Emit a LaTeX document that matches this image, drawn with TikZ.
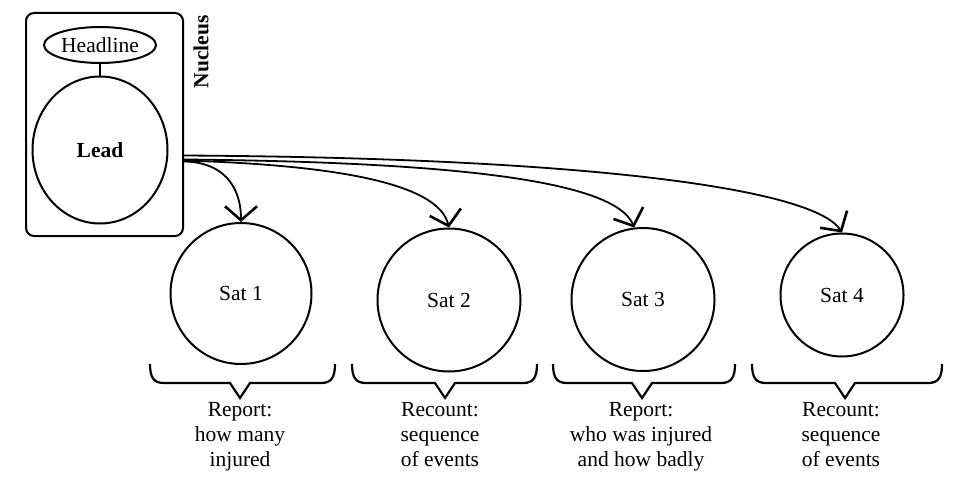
\documentclass[tikz,border=0pt]{standalone}
\usepackage{fontspec}
\setmainfont{Liberation Serif}
\usetikzlibrary{arrows.meta,shapes.geometric}

\begin{document}
\begin{tikzpicture}[x=1pt, y=-1pt, line width=2pt,
  txt/.style={font=\fontsize{21.5}{25}\selectfont},
  boldtxt/.style={font=\fontsize{21.5}{25}\selectfont\bfseries},
  sat/.style={circle, draw, inner sep=0pt, txt},
  oval/.style={ellipse, draw, inner sep=0pt},
  link/.style={line width=1.8pt, -{Straight Barb[length=14pt,width=32pt,line width=2.6pt]}},
  brace/.style={line width=2.2pt, line join=miter},
  note/.style={txt, align=center, anchor=north, inner sep=0pt}]

\useasboundingbox (0,0) rectangle (958,487);

% nucleus: headline over lead
\node[draw, rounded corners=8pt, minimum width=157pt, minimum height=223pt] (nucleus) at (104.5,124.5) {};
\node[oval, txt, minimum width=112pt, minimum height=36pt] (headline) at (100,45) {Headline};
\node[oval, boldtxt, minimum width=135pt, minimum height=147pt] (lead) at (100,150) {Lead};
\draw (headline) -- (lead);
\node[boldtxt, rotate=90] (nuclabel) at (201,52) {Nucleus};

% satellites
\node[sat, minimum size=141pt] (sat1) at (241,293.5) {Sat 1};
\node[sat, minimum size=143pt] (sat2) at (449,300) {Sat 2};
\node[sat, minimum size=143pt] (sat3) at (643,299.5) {Sat 3};
\node[sat, minimum size=123pt] (sat4) at (842,295) {Sat 4};

% links from the nucleus to each satellite
\draw[link] ([yshift=-31pt]nucleus.east) .. controls (600,158) and (815,190) .. (sat4.north);
\draw[link] ([yshift=-35pt]nucleus.east) .. controls (450,162) and (615,180) .. (sat3.97);
\draw[link] ([yshift=-36pt]nucleus.east) .. controls (330,165) and (438,182) .. (sat2.north);
\draw[link] ([yshift=-37pt]nucleus.east) .. controls (222,162) and (241,185) .. (sat1.north);

% braces under the satellites
\foreach \l/\c/\r in {150/240/335, 352/445/537, 553/642/735, 752/845/942} {
  \draw[brace] (\l,364) .. controls (\l,378) and (\l+4,383) .. (\l+14,383)
    -- (\c-10,383) -- (\c,398) -- (\c+10,383) -- (\r-14,383)
    .. controls (\r-4,383) and (\r,378) .. (\r,364);
}

% functions of the satellites
\node[note] (note1) at (240,401) {Report:\\how many\\injured};
\node[note] (note2) at (440,401) {Recount:\\sequence\\of events};
\node[note] (note3) at (641,401) {Report:\\who was injured\\and how badly};
\node[note] (note4) at (841,401) {Recount:\\sequence\\of events};
\end{tikzpicture}
\end{document}
